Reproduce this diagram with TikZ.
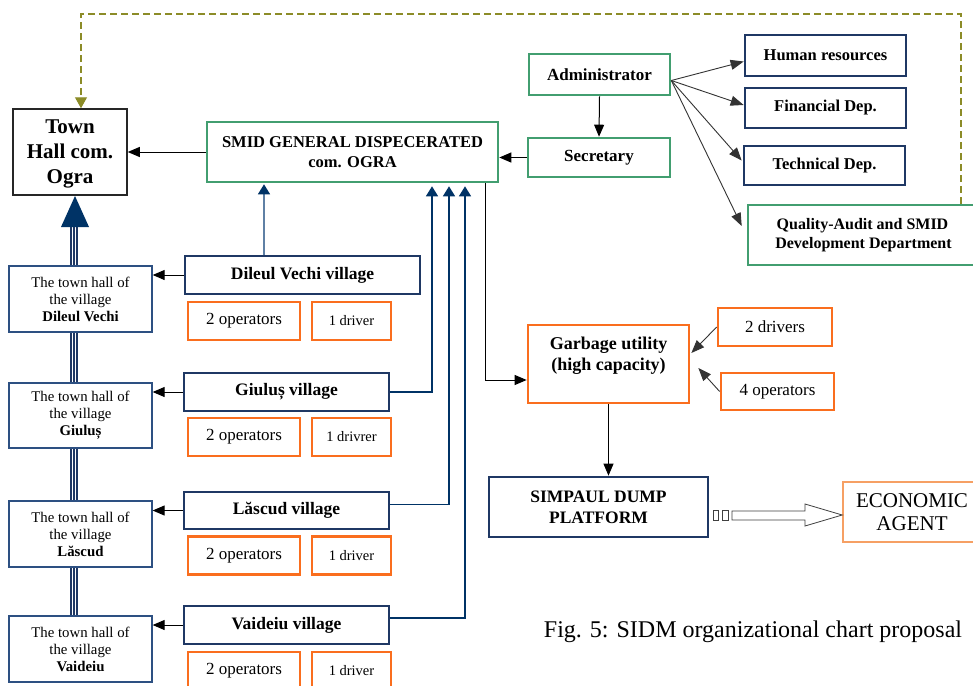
\documentclass[tikz,border=0pt]{standalone}
\usepackage{fontspec}
\setmainfont{Liberation Serif}
\usetikzlibrary{arrows.meta,calc}
\definecolor{grn}{RGB}{66,158,112}
\definecolor{nvy}{RGB}{31,56,100}
\definecolor{arrnvy}{RGB}{0,51,102}
\definecolor{steel}{RGB}{95,128,165}
\definecolor{org}{RGB}{250,110,30}
\definecolor{lorg}{RGB}{246,160,100}
\definecolor{oliv}{RGB}{140,140,40}
\definecolor{hallc}{RGB}{45,80,130}
\newcommand{\fs}[2]{\fontsize{#1}{#2}\selectfont}
\tikzset{
  bx/.style={draw, rectangle, inner sep=0pt, align=center, fill=white},
  gbox/.style={bx, draw=grn, line width=2.6pt, font=\fs{16.5}{19}\bfseries},
  nbox/.style={bx, draw=nvy, line width=2.7pt, font=\fs{16.5}{19}\bfseries},
  vbox/.style={bx, draw=nvy, line width=2.9pt, font=\fs{17.5}{20}\bfseries},
  obox/.style={bx, draw=org, line width=2.7pt},
  hallbox/.style={bx, draw=hallc, line width=1.3pt, font=\fs{14.8}{17}},
  txt/.style={inner sep=0pt, align=center},
  blk/.style={draw=black, line width=1pt, -{Triangle[length=12pt,width=10pt]}},
  gry/.style={draw=black!80, line width=0.9pt, -{Triangle[length=13pt,width=10pt]}},
  upn/.style={draw=arrnvy, line width=1.3pt, -{Triangle[length=10pt,width=12pt,color=arrnvy]}},
}
\begin{document}
\begin{tikzpicture}[x=1pt,y=-1pt]
\useasboundingbox (0,0) rectangle (973,685);
\clip (0,0) rectangle (973,685);
\fill[white] (0,0) rectangle (973,685);

% triple line from village town halls up to Town Hall
\foreach \xx in {71,74,77} \draw[nvy, line width=1.3pt] (\xx,224) -- (\xx,640);

% nodes
\node[bx, draw=black!85, line width=1.5pt, minimum width=114pt, minimum height=86pt] (town) at (70,152) {};
\node[txt, font=\fs{21}{25}\bfseries] (towntxt) at ($(town.center)+(0,2)$) {Town\\Hall com.\\Ogra};
\node[gbox, minimum width=291pt, minimum height=60pt, font=\fs{16.5}{19.5}\bfseries] (smid) at (352.5,152) {SMID GENERAL DISPECERATED\\com. OGRA};
\node[gbox, minimum width=141pt, minimum height=41pt, font=\fs{17}{19}\bfseries] (admin) at (599.5,74.5) {Administrator};
\node[gbox, minimum width=142pt, minimum height=39pt, font=\fs{17}{19}\bfseries] (secr) at (599,157.5) {Secretary};
\node[nbox, minimum width=161pt, minimum height=41pt] (human) at (825.5,55.5) {Human resources};
\node[nbox, minimum width=161pt, minimum height=40pt] (fin) at (825.5,108) {Financial Dep.};
\node[nbox, minimum width=161pt, minimum height=39pt] (tech) at (824.5,165.5) {Technical Dep.};
\node[gbox, minimum width=237pt, minimum height=60pt, font=\fs{16}{19.5}\bfseries] (qual) at (866.5,235) {\hspace*{-8pt}Quality-Audit and SMID\\\hspace*{-6pt}Development Department};

% villages
\node[vbox, minimum width=235pt, minimum height=38pt] (dv) at (302.5,275) {Dileul Vechi village};
\node[vbox, minimum width=205pt, minimum height=38pt] (gv) at (286.5,392) {Giuluș village};
\node[vbox, minimum width=205pt, minimum height=37pt] (lv) at (286.5,510.5) {Lăscud village};
\node[vbox, minimum width=205pt, minimum height=38pt] (vv) at (286.5,625) {Vaideiu village};

% operators / drivers
\foreach \nm/\yy in {a/321,b/437,c/555.5,d/671}{
  \node[obox, minimum width=112pt, minimum height=38pt, font=\fs{17}{19}] (op\nm) at (244,\yy) {2 operators};
}
\node[obox, minimum width=79pt, minimum height=38pt, font=\fs{14.5}{17}] (drva) at (351.5,321) {1 driver};
\node[obox, minimum width=79pt, minimum height=38pt, font=\fs{14.5}{17}] (drvb) at (351.5,437) {1 drivrer};
\node[obox, minimum width=79pt, minimum height=38pt, font=\fs{14.5}{17}] (drvc) at (351.5,555.5) {1 driver};
\node[obox, minimum width=79pt, minimum height=38pt, font=\fs{14.5}{17}] (drvd) at (351.5,671) {1 driver};

% village town halls
\node[hallbox, minimum width=143pt, minimum height=66pt] (ha) at (80.5,299) {The town hall of\\the village\\\textbf{Dileul Vechi}};
\node[hallbox, minimum width=143pt, minimum height=65pt] (hb) at (80.5,415.5) {The town hall of\\the village\\\textbf{Giuluș}};
\node[hallbox, minimum width=143pt, minimum height=66pt] (hc) at (80.5,534) {The town hall of\\the village\\\textbf{Lăscud}};
\node[hallbox, minimum width=143pt, minimum height=66pt] (hd) at (80.5,649) {The town hall of\\the village\\\textbf{Vaideiu}};

% garbage part
\node[obox, minimum width=161pt, minimum height=78pt] (garb) at (608.5,364) {};
\node[txt, font=\fs{18}{21}\bfseries] (garbtxt) at (608.5,356) {Garbage utility\\(high capacity)};
\node[obox, minimum width=114pt, minimum height=38pt, font=\fs{17}{19}] (drv2) at (775,327) {2 drivers};
\node[obox, minimum width=113pt, minimum height=37pt, font=\fs{17}{19}] (ops4) at (777.5,391.5) {4 operators};
\node[nbox, minimum width=219pt, minimum height=60pt, font=\fs{17.5}{21}\bfseries] (simp) at (598.5,507) {SIMPAUL DUMP\\PLATFORM};
\node[bx, draw=lorg, line width=1.6pt, minimum width=138pt, minimum height=60pt, font=\fs{21}{23}] (econ) at (912,512) {ECONOMIC\\AGENT};

% caption
\node[font=\fs{24}{28}, inner sep=0pt] (cap) at (753,632) {Fig. 5: SIDM organizational chart proposal};

% big arrow head on the triple line
\fill[arrnvy] (61,227) -- (89,227) -- (75,196) -- cycle;

% dashed olive feedback
\coordinate (dR) at (961,14);
\coordinate (dL) at (81,14);
\draw[oliv, line width=1.2pt, dash pattern=on 7pt off 4pt, -{Triangle[length=11pt,width=12pt,fill=oliv]}]
  (dR |- qual.north) -- (dR) -- (dL) -- (dL |- town.north);

% black arrows
\draw[blk] (smid.west) -- (smid.west -| town.east);
\draw[blk] (secr.west) -- (secr.west -| smid.east);
\draw[blk] (admin.south) -- (secr.north);
\coordinate (fan) at ($(admin.east)+(0,6)$);
\draw[gry] (fan) -- ($(human.west)+(0,6)$);
\draw[gry] (fan) -- ($(fin.west)+(0,-3)$);
\draw[gry] (fan) -- ($(tech.west)+(-1,-5)$);
\draw[gry] (fan) -- ($(qual.west)+(-5,-9)$);

\draw[blk] (dv.west) -- (dv.west -| ha.east);
\draw[blk] (gv.west) -- (gv.west -| hb.east);
\draw[blk] (lv.west) -- (lv.west -| hc.east);
\draw[blk] (vv.west) -- (vv.west -| hd.east);

% village to SMID
\coordinate (s1) at (264,0);
\coordinate (s2) at (432,0);
\coordinate (s3) at (449,0);
\coordinate (s4) at (465,0);
\draw[upn, draw=steel] (dv.north -| s1) -- ($(smid.south -| s1)+(0,1)$);
\draw[upn] (gv.east) -| ($(smid.south -| s2)+(0,3)$);
\draw[upn] ($(lv.east)+(0,-6)$) -| ($(smid.south -| s3)+(0,3)$);
\draw[upn] ($(vv.east)+(0,-7)$) -| ($(smid.south -| s4)+(0,3)$);

% SMID to garbage
\coordinate (s5) at (485,380);
\draw[blk] (smid.south -| s5) |- (garb.west |- s5);
\draw[blk] (garb.south) -- (garb.south |- simp.north);
\draw[gry] (drv2.west) -- ($(garb.east)+(1,-11)$);
\draw[gry] (ops4.west) -- ($(garb.east)+(8,4)$);

% block arrow to economic agent
\draw[black!75, line width=0.8pt] (713,510) rectangle (718,520);
\draw[black!75, line width=0.8pt] (722,510) rectangle (728,520);
\draw[black!75, line width=0.8pt] (732,511) -- (805,511) -- (805,504) -- (econ.west |- 0,515) -- (805,526) -- (805,520) -- (732,520) -- cycle;
\end{tikzpicture}
\end{document}
